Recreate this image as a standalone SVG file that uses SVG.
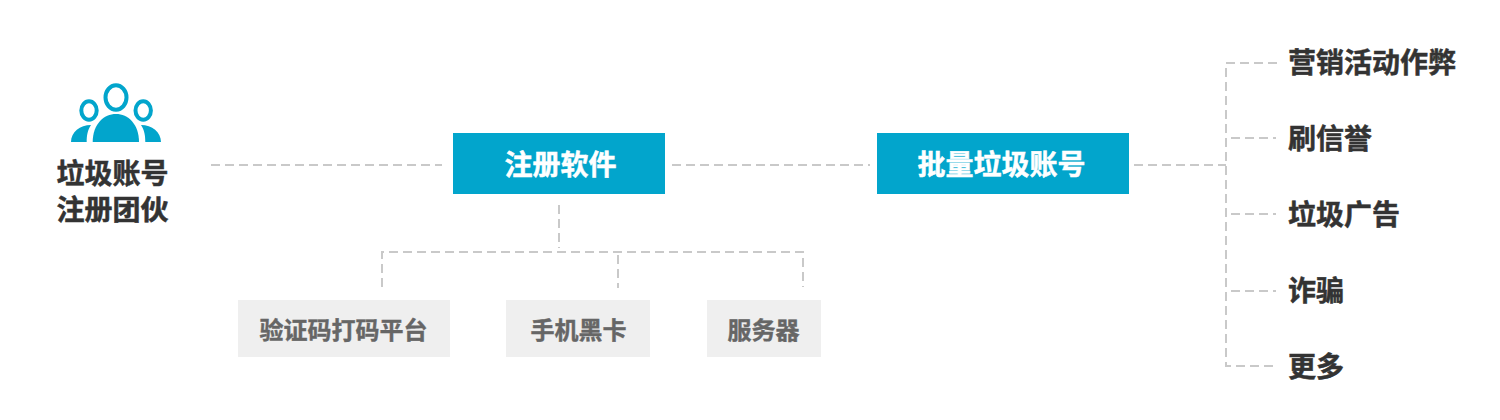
<svg xmlns="http://www.w3.org/2000/svg" width="1500" height="420" viewBox="0 0 1500 420">
<style>
text{font-family:"Liberation Sans","Noto Sans CJK SC",sans-serif;font-weight:700}
.d{fill:none;stroke:#c9c9c9;stroke-width:2;stroke-dasharray:9 5}
.b{fill:#02a5cc}
.w{font-size:28px;fill:#fff;stroke:#fff;stroke-width:.5;text-anchor:middle}
.k{font-size:28px;fill:#333;stroke:#333;stroke-width:.5}
.g{font-size:24px;fill:#666;stroke:#666;stroke-width:.4;text-anchor:middle}
.c{fill:#efefef}
.r{fill:none;stroke:#02a5cc;stroke-width:4}
</style>
<rect width="1500" height="420" fill="#fff"/>
<g id="connectors">
<path class="d" d="M211 165H442"/>
<path class="d" d="M672 165H870"/>
<path class="d" d="M1134 165H1226"/>
<path class="d" d="M559 205V248"/>
<path class="d" d="M382 287V252H803V287"/>
<path class="d" d="M618 255V288"/>
<path class="d" d="M1277 63H1226V366H1276"/>
<path class="d" d="M1231 138H1276"/>
<path class="d" d="M1231 214H1276"/>
<path class="d" d="M1231 291H1276"/>
</g>
<g id="team">
<ellipse class="r" cx="116" cy="97.500" rx="10.500" ry="12.200"/>
<ellipse class="r" cx="89" cy="110.500" rx="7.700" ry="9.200"/>
<ellipse class="r" cx="143.200" cy="110.500" rx="7.700" ry="9.200"/>
<path class="b" d="M92.700 142C92.700 124 104 114 116 114C128 114 139 124 139 142Z"/>
<path class="b" d="M71 142C71 132 80 125 91 125C87.500 130 86.700 136 86.700 142Z"/>
<path class="b" d="M161 142C161 132 152 125 141 125C144.500 130 145.300 136 145.300 142Z"/>
<text class="k" x="112.500" y="184" text-anchor="middle">垃圾账号</text>
<text class="k" x="112.500" y="220" text-anchor="middle">注册团伙</text>
</g>
<g id="reg-software"><rect class="b" x="453" y="133" width="212" height="61"/><text class="w" x="560.500" y="174.500">注册软件</text></g>
<g id="bulk-accounts"><rect class="b" x="877" y="133" width="252" height="61"/><text class="w" x="1001.500" y="174.500">批量垃圾账号</text></g>
<g id="captcha"><rect class="c" x="238" y="300" width="212" height="57"/><text class="g" x="343.500" y="339">验证码打码平台</text></g>
<g id="sim"><rect class="c" x="506" y="300" width="144" height="57"/><text class="g" x="578.500" y="339">手机黑卡</text></g>
<g id="server"><rect class="c" x="707" y="300" width="114" height="57"/><text class="g" x="763.500" y="339">服务器</text></g>
<g id="fraud"><text class="k" x="1288" y="73">营销活动作弊</text></g>
<g id="reputation"><text class="k" x="1288" y="149">刷信誉</text></g>
<g id="ads"><text class="k" x="1288" y="225">垃圾广告</text></g>
<g id="scam"><text class="k" x="1288" y="301">诈骗</text></g>
<g id="more"><text class="k" x="1288" y="376.500">更多</text></g>
</svg>
